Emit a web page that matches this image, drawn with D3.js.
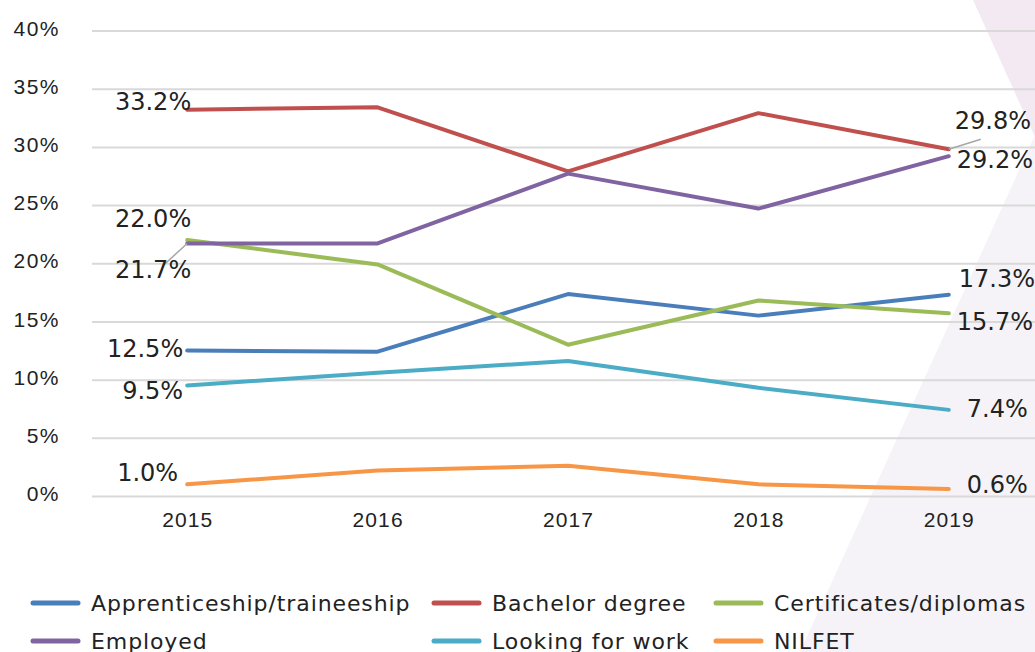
<!DOCTYPE html>
<html>
<head>
<meta charset="utf-8">
<script src="https://cdn.jsdelivr.net/npm/d3@7"></script>
<style>
  body { margin: 0; background: #fff; }
  svg { display: block; font-family: "DejaVu Sans", sans-serif; }
</style>
</head>
<body>
<div id="container"></div>
<script>
/* DATA */
const years = ["2015", "2016", "2017", "2018", "2019"];
const seriesNames = ["Apprenticeship/traineeship", "Bachelor degree", "Certificates/diplomas", "Employed", "Looking for work", "NILFET"];
const apprenticeship = [12.5, 12.4, 17.35, 15.5, 17.3];
const bachelor = [33.2, 33.4, 27.9, 32.9, 29.8];
const certificates = [22.0, 19.9, 13.0, 16.8, 15.7];
const employed = [21.7, 21.7, 27.7, 24.7, 29.2];
const lookingForWork = [9.5, 10.6, 11.6, 9.3, 7.4];
const nilfet = [1.0, 2.2, 2.6, 1.0, 0.6];
const yTicks = [0, 5, 10, 15, 20, 25, 30, 35, 40];

/* CONSTANTS */
const width = 1035, height = 652;
const colors = ["#4a7ebb", "#c0504d", "#9bbb59", "#8064a2", "#4bacc6", "#f79646"];
const allValues = [apprenticeship, bachelor, certificates, employed, lookingForWork, nilfet];

// where the first / last value labels sit, relative to the point
const labelPos = [
  { start: [-4, 6.5], end: [10, -8] },
  { start: [4, 0], end: [6, -20] },
  { start: [4, -13], end: [8, 17] },
  { start: [4, 35], end: [8, 12] },
  { start: [-4, 14], end: [18, 7] },
  { start: [-9, -3], end: [18, 4] }
];

const svg = d3.select("#container").append("svg")
  .attr("width", width)
  .attr("height", height);

// background shapes on the right
svg.append("polygon")
  .attr("points", "973,0 1035,0 1035,137")
  .attr("fill", "#f3e9f2");
svg.append("polygon")
  .attr("points", "1035,135 1035,652 800,652")
  .attr("fill", "#f5f3f7");

/* SCALES */
const xScale = d3.scalePoint()
  .domain(years)
  .range([92, 1044])
  .padding(0.5);

const yScale = d3.scaleLinear()
  .domain([0, 40])
  .range([496, 30.5]);

/* AXES */
const yAxis = d3.axisLeft(yScale)
  .tickValues(yTicks)
  .tickFormat(d => d + "%")
  .tickSize(-(1044 - 92))
  .tickPadding(32);

const yAxisG = svg.append("g")
  .attr("transform", "translate(92,0)")
  .call(yAxis);
yAxisG.select(".domain").remove();
yAxisG.selectAll(".tick line")
  .attr("stroke", "#d9d9d9")
  .attr("stroke-width", 2);
yAxisG.selectAll(".tick text")
  .attr("fill", "#222")
  .attr("font-size", 21)
  .attr("letter-spacing", 1.5)
  .attr("dy", "0.22em");

const xAxis = d3.axisBottom(xScale).tickSize(0).tickPadding(16);
const xAxisG = svg.append("g")
  .attr("transform", "translate(0,496)")
  .call(xAxis);
xAxisG.select(".domain").remove();
xAxisG.selectAll(".tick text")
  .attr("fill", "#222")
  .attr("font-size", 21)
  .attr("letter-spacing", 1.1);

/* LINES */
const line = d3.line()
  .x((d, i) => xScale(years[i]))
  .y(d => yScale(d));

svg.append("g")
  .selectAll("path")
  .data(allValues)
  .join("path")
  .attr("d", d => line(d))
  .attr("fill", "none")
  .attr("stroke", (d, i) => colors[i])
  .attr("stroke-width", 4)
  .attr("stroke-linecap", "round")
  .attr("stroke-linejoin", "round");

/* LEADER LINES */
const leaders = [
  { series: 3, idx: 0, to: [-24, 22] },
  { series: 1, idx: 4, to: [32, -10] }
];
svg.append("g")
  .selectAll("line")
  .data(leaders)
  .join("line")
  .attr("x1", d => xScale(years[d.idx]))
  .attr("y1", d => yScale(allValues[d.series][d.idx]))
  .attr("x2", d => xScale(years[d.idx]) + d.to[0])
  .attr("y2", d => yScale(allValues[d.series][d.idx]) + d.to[1])
  .attr("stroke", "#a6a6a6")
  .attr("stroke-width", 1.5);

/* VALUE LABELS */
const labels = [];
allValues.forEach((vals, i) => {
  labels.push({ x: xScale(years[0]) + labelPos[i].start[0], y: yScale(vals[0]) + labelPos[i].start[1], v: vals[0], anchor: "end" });
  const last = vals.length - 1;
  labels.push({ x: xScale(years[last]) + labelPos[i].end[0], y: yScale(vals[last]) + labelPos[i].end[1], v: vals[last], anchor: "start" });
});

svg.append("g")
  .selectAll("text")
  .data(labels)
  .join("text")
  .attr("x", d => d.x)
  .attr("y", d => d.y)
  .attr("text-anchor", d => d.anchor)
  .attr("font-size", 24)
  .attr("fill", "#222")
  .text(d => d3.format(".1f")(d.v) + "%");

/* LEGEND */
const legendCols = [33, 434, 716];
const legendRows = [603, 641];
const legend = svg.append("g")
  .selectAll("g")
  .data(seriesNames)
  .join("g")
  .attr("transform", (d, i) => `translate(${legendCols[i % 3]},${legendRows[Math.floor(i / 3)]})`);

legend.append("line")
  .attr("x1", 0)
  .attr("x2", 45)
  .attr("stroke", (d, i) => colors[i])
  .attr("stroke-width", 5)
  .attr("stroke-linecap", "round");

legend.append("text")
  .attr("x", 58)
  .attr("dy", "0.36em")
  .attr("font-size", 22)
  .attr("letter-spacing", 0.9)
  .attr("fill", "#222")
  .text(d => d);
</script>
</body>
</html>
